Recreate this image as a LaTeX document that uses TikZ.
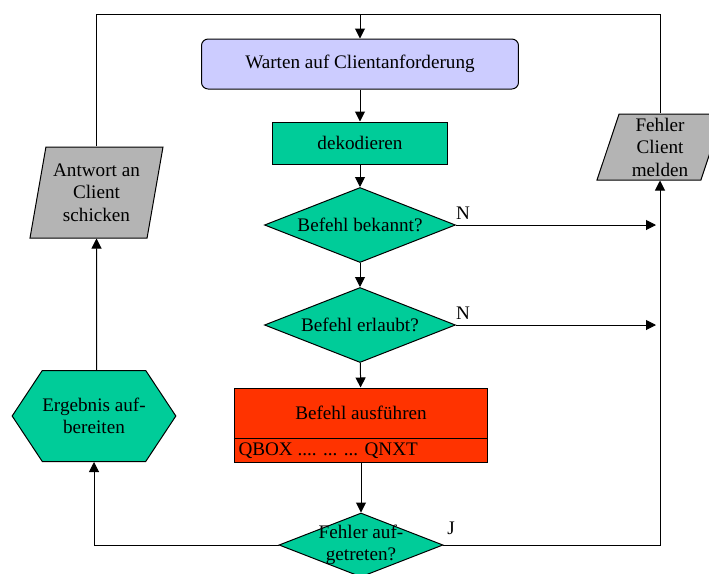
\documentclass[tikz,border=0pt]{standalone}
\usepackage{fontspec}
\setmainfont{Liberation Serif}
\usetikzlibrary{shapes.geometric,shapes.symbols,arrows.meta}
\definecolor{wartefarbe}{RGB}{204,204,255}
\definecolor{prozessgruen}{RGB}{0,204,153}
\definecolor{befehlrot}{RGB}{255,51,0}
\definecolor{ausgabegrau}{RGB}{180,180,180}

\tikzset{
	pfeil/.style={-{Triangle[length=6pt,width=6pt]}},
	wartebox/.style={draw, rounded corners=4pt, fill=wartefarbe, minimum width=190.2pt, minimum height=30pt},
	schrittbox/.style={draw, fill=prozessgruen, minimum width=105pt, minimum height=25.2pt},
	befehlbox/.style={draw, fill=befehlrot, minimum width=152.4pt, minimum height=44.4pt},
	frage/.style={diamond, draw, fill=prozessgruen, aspect=2.5, inner sep=0pt, minimum width=114.6pt, minimum height=45pt},
	aufbereiten/.style={signal, signal to=east and west, signal pointer angle=113, draw, fill=prozessgruen, align=center, inner sep=0pt, minimum width=95.4pt, minimum height=54.6pt},
	ausgabe/.style={trapezium, trapezium stretches body, draw, fill=ausgabegrau, align=center, inner sep=0pt}
}

\begin{document}
\begin{tikzpicture}[x=0.6pt, y=-0.6pt, line width=0.6pt, font=\fontsize{11.5}{13.5}\selectfont]
		\useasboundingbox (0,0) rectangle (709,574);
		
		\node[wartebox] (warten) at (360,64) {Warten auf Clientanforderung};
		\node[schrittbox] (dekodieren) at (360,143) {dekodieren};
		\node[frage] (bekannt) at (360,225) {Befehl bekannt?};
		\node[frage] (erlaubt) at (360,325) {Befehl erlaubt?};
		\node[befehlbox] (ausfuehren) at (361,425) {};
		\node (ausftext) at (361,413) {Befehl ausführen};
		\node[anchor=west, inner sep=0pt] (qbox) at (238,451) {QBOX .... ... ... QNXT};
		\node[frage, minimum width=98.4pt, minimum height=38.4pt, label={[align=center, name=fehlertext]center:Fehler auf-\\getreten?}] (fehler) at (361,545) {};
		\node[aufbereiten] (ergebnis) at (94,416) {Ergebnis auf-\\bereiten};
		\node[ausgabe, minimum width=79.8pt, minimum height=54.6pt, trapezium left angle=74.6, trapezium right angle=105.4] (antwort) at (96.5,192.5) {Antwort an\\Client\\schicken};
		\node[ausgabe, minimum width=75.6pt, minimum height=39.6pt, trapezium left angle=69.3, trapezium right angle=110.7] (melden) at (660,147) {Fehler\\Client\\melden};
		
		\node (nbekannt) at (463,213) {N};
		\node (nerlaubt) at (463,313) {N};
		\node (jfehler) at (451,528) {J};
		
		\coordinate (oben) at (360,14);
		
		\draw (ausfuehren.west |- 0,438) -- (ausfuehren.east |- 0,438);
		
		\draw (antwort) |- (oben);
		\draw[pfeil] (melden) |- (oben) -- (warten);
		\draw[pfeil] (warten) -- (dekodieren);
		\draw[pfeil] (dekodieren) -- (bekannt);
		\draw[pfeil] (bekannt) -- (erlaubt);
		\draw[pfeil] (erlaubt) -- (ausfuehren);
		\draw[pfeil] (ausfuehren) -- (fehler);
		\draw[pfeil, shorten >=2.4pt] (bekannt.east) -- (bekannt.east -| melden.south);
		\draw[pfeil, shorten >=2.4pt] (erlaubt.east) -- (erlaubt.east -| melden.south);
		\draw[pfeil] (fehler.east) -| (melden);
		\draw[pfeil] (fehler.west) -| (ergebnis);
		\draw[pfeil] (ergebnis.north -| antwort.south) -- (antwort);
	\end{tikzpicture}
\end{document}
